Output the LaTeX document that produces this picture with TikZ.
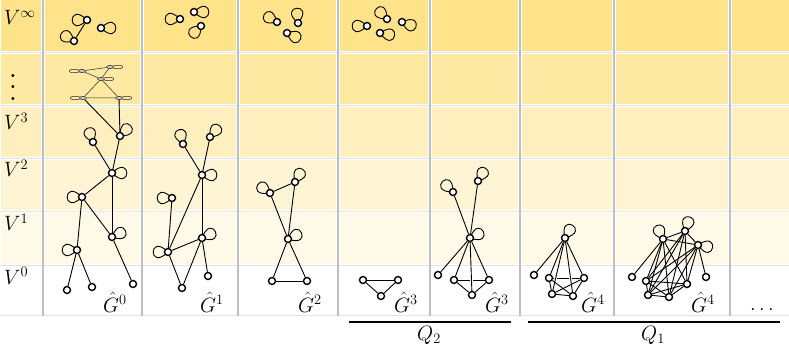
\documentclass[tikz,border=0pt]{standalone}
\usetikzlibrary{shapes.geometric}
\pgfdeclarelayer{cells}
\pgfdeclarelayer{edges}
\pgfsetlayers{cells,edges,main}
\definecolor{rowA}{RGB}{254,227,138}
\definecolor{rowB}{RGB}{254,233,163}
\definecolor{rowC}{RGB}{255,239,190}
\definecolor{rowD}{RGB}{255,244,211}
\definecolor{rowE}{RGB}{255,249,232}
\definecolor{rowF}{RGB}{255,255,255}
\tikzset{
  v/.style={circle,draw=black,fill=white,inner sep=0pt,minimum size=7pt,line width=1.4pt},
  fv/.style={ellipse,draw=black!85,fill=gray!40,inner sep=0pt,minimum width=7pt,minimum height=3pt,line width=0.6pt},
  e/.style={line width=0.9pt},
  fe/.style={line width=0.5pt,black!85},
  halo/.style={white,line width=2.8pt},
  lbl/.style={font=\fontsize{21}{25}\selectfont,inner sep=0pt},
  qbar/.style={line width=2.6pt},
}
\newcommand\mylobe[3][28]{\draw[e] (#2.center) .. controls +(#3-45:#1) and +(#3+45:#1) .. (#2.center);}
\newcommand\myflatlobe[2]{\draw[fe] (#1.center) .. controls +(#2-20:18) and +(#2+20:18) .. (#1.center);}
\begin{document}
\begin{tikzpicture}[x=1pt,y=-1pt]
\useasboundingbox (0,0) rectangle (789,347);
% ---------------- cells
\begin{pgfonlayer}{cells}
\fill[white] (0,0) rectangle (789,347);
\foreach \ya/\yb/\c in {-1.5/52.5/rowA, 52.5/105.5/rowB, 105.5/158.5/rowC, 158.5/211.5/rowD, 211.5/265/rowE, 265/315/rowF}{
  \foreach \xa/\xb in {-1/43, 43/142, 142/238, 238/338, 338/430, 430/520, 520/614, 614/730, 730/791}{
    \fill[\c] (\xa+2,\ya+1.5) rectangle (\xb-2,\yb-1.5);
  }
}
\foreach \y in {52.5,105.5,158.5,211.5,265,315.5}
  \draw[gray!22,line width=1pt] (0,\y) -- (789,\y);
\foreach \x in {43,142,238,338,430,520,614,730}
  \draw[gray!50,line width=1.1pt] (\x,0) -- (\x,316);
\end{pgfonlayer}
% ---------------- row labels
\node[lbl,anchor=base west] (rinf) at (4,25) {$V^\infty$};
\node[scale=2.8] (rdots) at (13,79) {$\vdots$};
\node[lbl,anchor=base west] (r3) at (4,130) {$V^3$};
\node[lbl,anchor=base west] (r2) at (4,177) {$V^2$};
\node[lbl,anchor=base west] (r1) at (4,231) {$V^1$};
\node[lbl,anchor=base west] (r0) at (4,284) {$V^0$};
% ---------------- column 1
\node[v] (a1) at (87,20) {};
\node[v] (a2) at (74,41) {};
\node[v] (a3) at (101,28) {};
\node[fv] (p1) at (82,71) {};
\node[fv] (p2) at (110,67) {};
\node[fv] (p3) at (101,79) {};
\node[fv] (p4) at (83,98) {};
\node[fv] (p5) at (119,98) {};
\node[v] (b1) at (93,142) {};
\node[v] (b2) at (120,136) {};
\node[v] (c1) at (112,173) {};
\node[v] (c2) at (82,197) {};
\node[v] (d1) at (112,237) {};
\node[v] (d2) at (77,250) {};
\node[v] (e1) at (67,290) {};
\node[v] (e2) at (92,287) {};
\node[v] (e3) at (133,284) {};
% ---------------- column 2
\node[v] (ga1) at (180,19) {};
\node[v] (ga2) at (194,12) {};
\node[v] (ga3) at (201,26) {};
\node[v] (gb1) at (183,144) {};
\node[v] (gb2) at (210,137) {};
\node[v] (gc1) at (202,175) {};
\node[v] (gc2) at (172,198) {};
\node[v] (gd1) at (202,238) {};
\node[v] (gd2) at (168,252) {};
\node[v] (ge1) at (182,288) {};
\node[v] (ge2) at (208,276) {};
% ---------------- column 3
\node[v] (ha1) at (277,22) {};
\node[v] (ha2) at (298,23) {};
\node[v] (ha3) at (287,33) {};
\node[v] (hc1) at (270,193) {};
\node[v] (hc2) at (295,182) {};
\node[v] (hd1) at (288,239) {};
\node[v] (he1) at (272,281) {};
\node[v] (he2) at (307,281) {};
% ---------------- column 4
\node[v] (ia1) at (367,26) {};
\node[v] (ia2) at (387,19) {};
\node[v] (ia3) at (402,22) {};
\node[v] (ia4) at (380,33) {};
\node[v] (ie1) at (363,280) {};
\node[v] (ie2) at (398,280) {};
\node[v] (ie3) at (381,296) {};
% ---------------- column 5
\node[v] (jc1) at (453,192) {};
\node[v] (jc2) at (478,181) {};
\node[v] (jd1) at (470,238) {};
\node[v] (je1) at (438,275) {};
\node[v] (je2) at (454,280) {};
\node[v] (je3) at (489,280) {};
\node[v] (je4) at (472,295) {};
% ---------------- column 6
\node[v] (kd) at (565,238) {};
\node[v] (ke0) at (534,275) {};
\node[v] (ke1) at (549,278) {};
\node[v] (ke2) at (584,278) {};
\node[v] (ke3) at (552,294) {};
\node[v] (ke4) at (573,296) {};
% ---------------- column 7
\node[v] (mt1) at (663,239) {};
\node[v] (mt2) at (685,231) {};
\node[v] (mt3) at (698,245) {};
\node[v] (ml) at (632,277) {};
\node[v] (mr) at (706,277) {};
\node[v] (mb1) at (646,281) {};
\node[v] (mb2) at (687,284) {};
\node[v] (mb3) at (648,295) {};
\node[v] (mb4) at (669,297) {};
% ---------------- graph labels
\node[lbl,anchor=base] (g0) at (115,312) {$\hat G^0$};
\node[lbl,anchor=base] (g1) at (212,312) {$\hat G^1$};
\node[lbl,anchor=base] (g2) at (310,312) {$\hat G^2$};
\node[lbl,anchor=base] (g3a) at (406,312) {$\hat G^3$};
\node[lbl,anchor=base] (g3b) at (497,312) {$\hat G^3$};
\node[lbl,anchor=base] (g4a) at (593,312) {$\hat G^4$};
\node[lbl,anchor=base] (g4b) at (703,312) {$\hat G^4$};
\node[lbl,anchor=base] (gdots) at (762,310) {$\dots$};
% ---------------- Q bars
\coordinate (q2a) at (349,322);
\coordinate (q2b) at (511,322);
\coordinate (q1a) at (528,322);
\coordinate (q1b) at (780,322);
\draw[qbar] (q2a) -- (q2b);
\draw[qbar] (q1a) -- (q1b);
\node[lbl,anchor=base] (q2) at (429,340) {$Q_2$};
\node[lbl,anchor=base] (q1) at (653,340) {$Q_1$};
% ---------------- edges and loops
\begin{pgfonlayer}{edges}
% column 1
\draw[e] (a1) -- (a2);
\mylobe{a1}{180} \mylobe{a2}{210} \mylobe{a3}{0}
\draw[fe] (p1) -- (p2) (p1) -- (p3) (p2) -- (p3) (p3) -- (p4) (p3) -- (p5) (p4) -- (p5);
\myflatlobe{p1}{180} \myflatlobe{p2}{0} \myflatlobe{p3}{0} \myflatlobe{p4}{180} \myflatlobe{p5}{0}
\draw[e] (p4) -- (b2);
\draw[e] (p5) -- (b2);
\draw[e] (b1) -- (c1);
\draw[e] (b2) -- (c1);
\draw[e] (c1) -- (c2);
\draw[e] (c1) -- (d1);
\draw[e] (c2) -- (d1);
\draw[e] (c2) -- (d2);
\draw[e] (d2) -- (e1);
\draw[e] (d2) -- (e2);
\draw[e] (d1) -- (e3);
\mylobe{b1}{250} \mylobe{b2}{315} \mylobe{c1}{0} \mylobe{c2}{180} \mylobe{d1}{335} \mylobe{d2}{180}
% column 2
\mylobe{ga1}{180} \mylobe{ga2}{0} \mylobe{ga3}{135}
\draw[e] (gb1) -- (gc1);
\draw[e] (gb2) -- (gc1);
\draw[e] (gc1) -- (gd2);
\draw[e] (gc1) -- (gd1);
\draw[e] (gc2) -- (gd2);
\draw[e] (gd2) -- (gd1);
\draw[e] (gd2) -- (ge1);
\draw[e] (gd1) -- (ge1);
\draw[e] (gd1) -- (ge2);
\mylobe{gb1}{255} \mylobe{gb2}{310} \mylobe{gc1}{0} \mylobe{gc2}{180} \mylobe{gd1}{335} \mylobe{gd2}{180}
% column 3
\mylobe{ha1}{210} \mylobe{ha2}{265} \mylobe{ha3}{25}
\draw[e] (hc1) -- (hc2);
\draw[e] (hc1) -- (hd1);
\draw[e] (hc2) -- (hd1);
\draw[e] (hd1) -- (he1);
\draw[e] (hd1) -- (he2);
\draw[e] (he1) -- (he2);
\mylobe{hc1}{215} \mylobe{hc2}{300} \mylobe{hd1}{335}
% column 4
\mylobe{ia1}{180} \mylobe{ia2}{225} \mylobe{ia3}{20} \mylobe{ia4}{10}
\draw[e] (ie1) -- (ie2);
\draw[e] (ie1) -- (ie3);
\draw[e] (ie2) -- (ie3);
% column 5
\draw[e] (jc1) -- (jd1);
\draw[e] (jc2) -- (jd1);
\draw[e] (jd1) -- (je1);
\draw[e] (jd1) -- (je2);
\draw[e] (jd1) -- (je3);
\draw[e] (je2) -- (je4);
\draw[e] (je3) -- (je4);
\draw[e] (je2) -- (je3);
\begin{scope}
\clip (338,266) rectangle (789,315);
\draw[halo] (jd1) -- (je4);
\end{scope}
\draw[e] (jd1) -- (je4);
\mylobe{jc1}{225} \mylobe{jc2}{300} \mylobe{jd1}{335}
% column 6
\draw[e] (ke1) -- (ke2);
\draw[e] (kd) -- (ke0);
\draw[e] (kd) -- (ke1);
\draw[e] (kd) -- (ke2);
\begin{scope}
\clip (520,266) rectangle (614,315);
\draw[halo] (kd) -- (ke3);
\draw[halo] (kd) -- (ke4);
\draw[halo] (ke1) -- (ke4);
\draw[halo] (ke2) -- (ke3);
\end{scope}
\draw[e] (kd) -- (ke3);
\draw[e] (kd) -- (ke4);
\draw[e] (ke1) -- (ke4);
\draw[e] (ke2) -- (ke3);
\draw[e] (ke1) -- (ke3);
\draw[e] (ke2) -- (ke4);
\draw[e] (ke3) -- (ke4);
\mylobe{kd}{300}
% column 7
\draw[e] (mt1) -- (mt2);
\draw[e] (mt1) -- (mt3);
\draw[e] (mt2) -- (mt3);
\draw[e] (mt1) -- (ml);
\draw[e] (mt3) -- (mr);
\foreach \t in {mt1,mt2,mt3}{
  \foreach \b in {mb1,mb2,mb3,mb4}{
    \draw[e] (\t) -- (\b);
  }
}
\draw[e] (mb1) -- (mb2);
\draw[e] (mb1) -- (mb3);
\draw[e] (mb1) -- (mb4);
\draw[e] (mb2) -- (mb3);
\draw[e] (mb2) -- (mb4);
\draw[e] (mb3) -- (mb4);
\mylobe{mt1}{245} \mylobe{mt2}{290} \mylobe{mt3}{10}
\end{pgfonlayer}
\end{tikzpicture}
\end{document}
